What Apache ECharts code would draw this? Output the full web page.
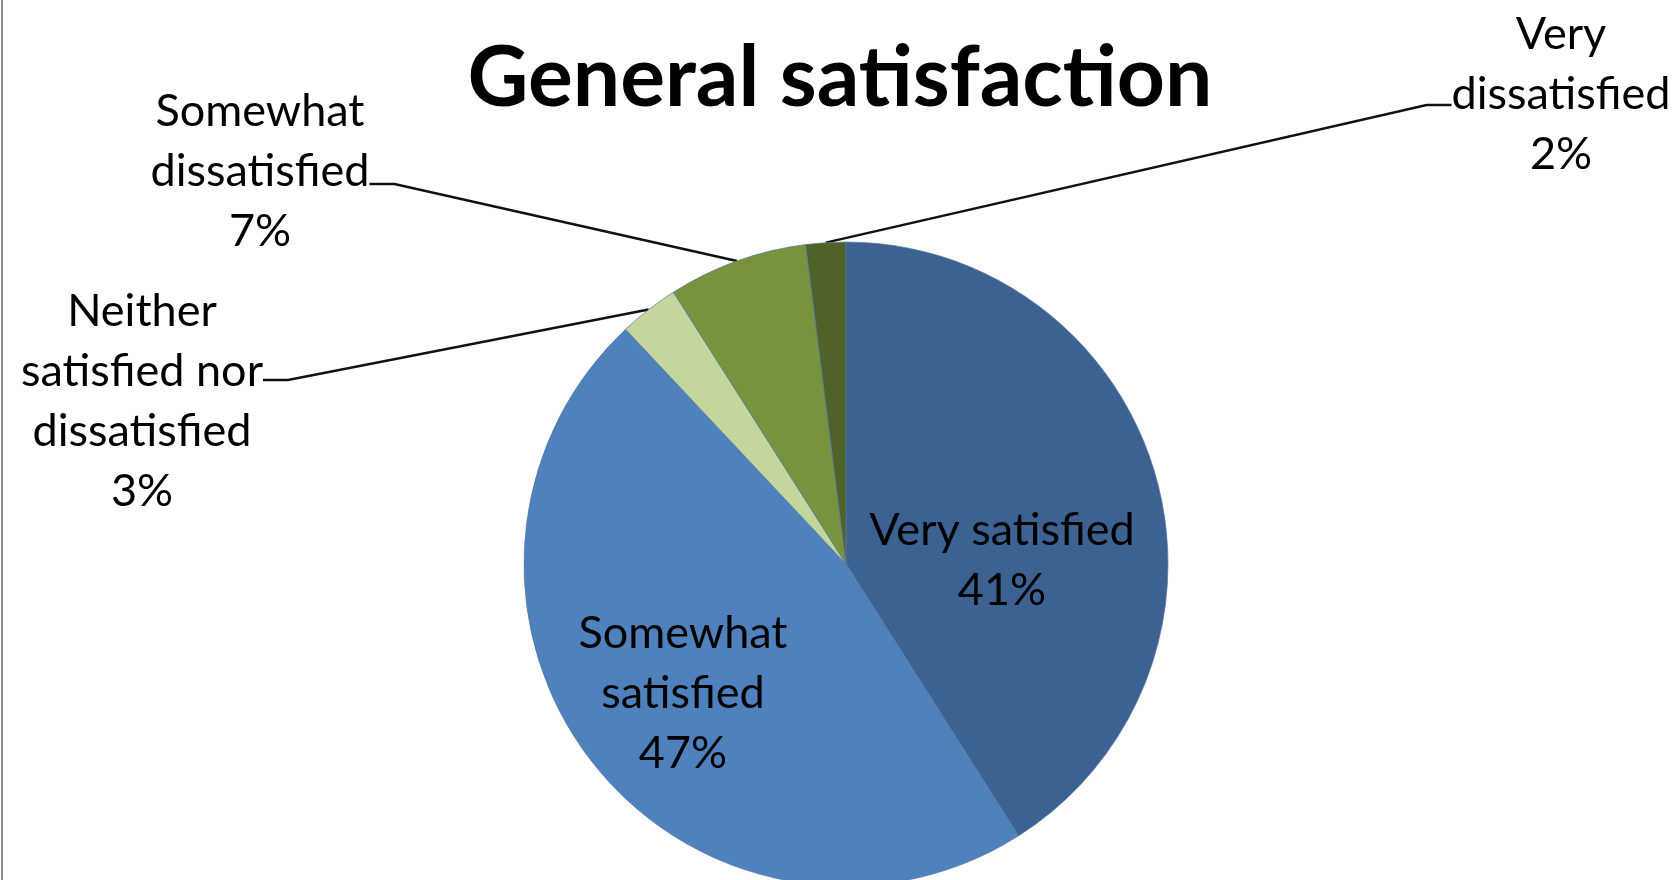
<!DOCTYPE html>
<html>
<head>
<meta charset="utf-8">
<script src="https://cdn.jsdelivr.net/npm/echarts@6/dist/echarts.min.js"></script>
<style>
html,body{margin:0;padding:0;background:#fff;}
#chart{width:1680px;height:880px;}
</style>
</head>
<body>
<div id="chart"></div>
<script>
const categories = ['Very satisfied', 'Somewhat satisfied', 'Neither satisfied nor dissatisfied', 'Somewhat dissatisfied', 'Very dissatisfied'];
const values = [41, 47, 3, 7, 2];
const labelTexts = ['Very satisfied', 'Somewhat\nsatisfied', 'Neither\nsatisfied nor\ndissatisfied', 'Somewhat\ndissatisfied', 'Very\ndissatisfied'];
const insideLabel = [true, true, false, false, false];
const colors = ['#3C6291', '#4F81BD', '#C3D69B', '#77933C', '#4F6228'];

// label placement (layout only): box centre, plus spacer heights (top, bottom) so the leader meets the right text line
const labelPos = [[1002, 560], [683, 693], [142, 380], [260, 184], [1561, 105]];
const labelSpacer = [[0, 0], [0, 0], [42, 0], [0, 26], [0, 22]];

const chart = echarts.init(document.getElementById('chart'));
const data = categories.map((c, i) => ({
  name: c,
  value: values[i],
  itemStyle: { color: colors[i] },
  label: { position: insideLabel[i] ? 'inside' : 'outside' },
  labelLine: { show: !insideLabel[i] }
}));

const rich = { t: { lineHeight: 0 } };
labelSpacer.forEach((s, i) => {
  rich['a' + i] = { fontSize: 1, lineHeight: s[0] };
  rich['b' + i] = { fontSize: 1, lineHeight: s[1] };
});

chart.setOption({
  backgroundColor: '#ffffff',
  animation: false,
  title: {
    text: 'General satisfaction',
    left: 'center',
    top: 32,
    textStyle: { fontFamily: 'Lato', fontWeight: 'bold', fontSize: 84, color: '#000' }
  },
  graphic: [{
    type: 'line',
    shape: { x1: 2, y1: 0, x2: 2, y2: 880 },
    style: { stroke: '#8a8a8a', lineWidth: 2 }
  }],
  series: [{
    type: 'pie',
    center: [846, 564],
    radius: [0, 322],
    startAngle: 90,
    clockwise: true,
    avoidLabelOverlap: false,
    itemStyle: { borderColor: 'rgba(90,120,160,0.7)', borderWidth: 1 },
    label: {
      show: true,
      fontFamily: 'Lato',
      fontSize: 45,
      lineHeight: 60,
      color: '#000',
      align: 'center',
      rich: rich,
      formatter: p => {
        const i = p.dataIndex;
        const s = labelSpacer[i];
        let txt = labelTexts[i] + '\n' + p.percent + '%';
        if (s[0] > 0) txt = '{a' + i + '| }\n' + txt;
        if (s[1] > 0) txt = txt + '\n{b' + i + '| }';
        return txt;
      }
    },
    labelLine: { show: true, length: 20, length2: 25, lineStyle: { color: '#111', width: 2.5 } },
    labelLayout: p => ({
      x: labelPos[p.dataIndex][0],
      y: labelPos[p.dataIndex][1],
      align: 'center',
      verticalAlign: 'middle'
    }),
    emphasis: { disabled: true },
    data: data
  }]
});
</script>
</body>
</html>
